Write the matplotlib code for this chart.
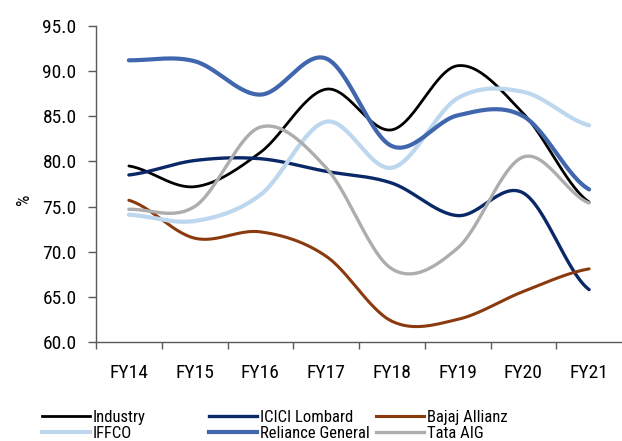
import numpy as np
import matplotlib
matplotlib.use('Agg')
import matplotlib.pyplot as plt
from matplotlib.lines import Line2D

plt.rcParams['font.family'] = ['Liberation Sans Narrow', 'Roboto Condensed', 'DejaVu Sans']
plt.rcParams['font.stretch'] = 'condensed'

years = ['FY14', 'FY15', 'FY16', 'FY17', 'FY18', 'FY19', 'FY20', 'FY21']

industry = [79.5, 77.2, 81.0, 88.0, 83.5, 90.6, 85.3, 75.5]
icici = [78.5, 80.1, 80.3, 78.9, 77.6, 74.0, 76.5, 65.8]
bajaj = [75.7, 71.5, 72.2, 69.5, 62.3, 62.5, 65.6, 68.1]
iffco = [74.1, 73.4, 76.3, 84.4, 79.3, 87.0, 87.7, 84.0]
reliance = [91.2, 91.1, 87.4, 91.4, 81.7, 85.1, 85.0, 76.9]
tata = [74.7, 75.0, 83.8, 79.3, 68.1, 70.4, 80.5, 75.4]

series = [
    ('Industry', industry, '#000000', 2.0),
    ('ICICI Lombard', icici, '#0A2868', 2.4),
    ('Bajaj Allianz', bajaj, '#8B3A0E', 2.2),
    ('IFFCO', iffco, '#BDD7EE', 3.0),
    ('Reliance General', reliance, '#4066AE', 3.0),
    ('Tata AIG', tata, '#ADADAD', 2.4),
]


def smooth(y, n=30):
    # Catmull-Rom style smoothing, like the spreadsheet "smoothed line"
    y = np.asarray(y, float)
    x = np.arange(len(y), dtype=float)
    xs, ys = [], []
    for i in range(len(y) - 1):
        y0 = y[i - 1] if i > 0 else y[i]
        y3 = y[i + 2] if i + 2 < len(y) else y[i + 1]
        p1, p2 = y[i], y[i + 1]
        c1 = p1 + (p2 - y0) / 6.0
        c2 = p2 - (y3 - p1) / 6.0
        t = np.linspace(0, 1, n, endpoint=(i == len(y) - 2))
        b = (1 - t) ** 3 * p1 + 3 * (1 - t) ** 2 * t * c1 + 3 * (1 - t) * t ** 2 * c2 + t ** 3 * p2
        xs.append(x[i] + t)
        ys.append(b)
    return np.concatenate(xs), np.concatenate(ys)


fig = plt.figure(figsize=(6.22, 4.41), dpi=100)
ax = fig.add_axes([96 / 622, 1 - 342 / 441, 526 / 622, 316 / 441])

for name, vals, col, lw in series:
    xs, ys = smooth(vals)
    ax.plot(xs, ys, color=col, lw=lw, solid_capstyle='round')

ax.set_xlim(-0.5, 7.5)
ax.set_ylim(60, 95)
ax.set_yticks(np.arange(60, 96, 5))
ax.set_yticklabels([f'{v:.1f}' for v in np.arange(60, 96, 5)], fontsize=14)
ax.set_xticks(range(len(years)))
ax.set_xticklabels(years, fontsize=14)
ax.set_xticks(np.arange(-0.5, 7.5, 1), minor=True)
ax.tick_params(axis='x', which='major', length=0, pad=16)
ax.tick_params(axis='x', which='minor', length=5, width=1, color='#595959')
ax.tick_params(axis='y', length=6, width=1, color='#595959', pad=8)
for s in ['top', 'right']:
    ax.spines[s].set_visible(False)
for s in ['left', 'bottom']:
    ax.spines[s].set_color('#595959')
    ax.spines[s].set_linewidth(1)
ax.set_ylabel('%', fontsize=13)
ax.yaxis.set_label_coords(-0.12, 0.45)

# legend: three columns, two rows
cols = [[series[0], series[3]], [series[1], series[4]], [series[2], series[5]]]
xpos = [42, 209, 376]
for x0, pair in zip(xpos, cols):
    handles = [Line2D([], [], color=c, lw=lw) for _, _, c, lw in pair]
    labels = [n for n, _, _, _ in pair]
    fig.legend(handles, labels, loc='upper left', bbox_to_anchor=(x0 / 622, 1 - 410 / 441),
               frameon=False, fontsize=12, handlelength=2.9, handletextpad=0.15,
               labelspacing=0.05, borderpad=0, borderaxespad=0)

fig.savefig('out.png', dpi=100)
